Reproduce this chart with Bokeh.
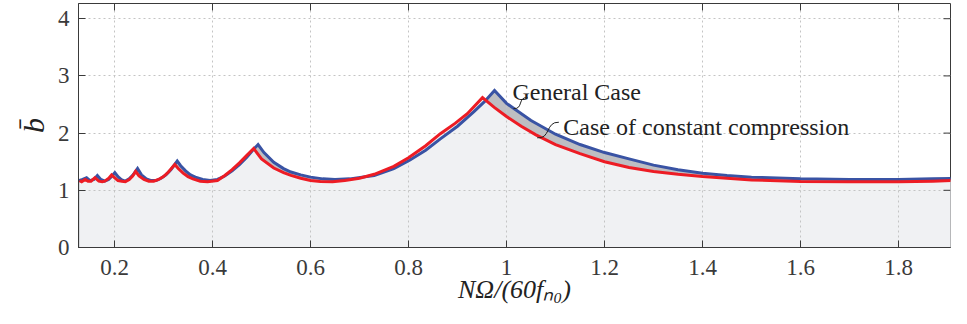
import numpy as np
from bokeh.plotting import figure
from bokeh.models import Range1d, Label, FixedTicker
from bokeh.embed import file_html
from bokeh.resources import INLINE

# ---------------- data ----------------
blue_x = [0.1265, 0.135, 0.143, 0.150, 0.158, 0.165, 0.172, 0.180, 0.188, 0.195, 0.2007, 0.207,
          0.215, 0.222, 0.230, 0.238, 0.247, 0.255, 0.265, 0.275, 0.285, 0.295, 0.305, 0.315,
          0.328, 0.335, 0.345, 0.355, 0.365, 0.380, 0.395, 0.410, 0.425, 0.440, 0.455, 0.470,
          0.482, 0.493, 0.505, 0.525, 0.545, 0.560, 0.580, 0.600, 0.625, 0.650, 0.680, 0.730,
          0.770, 0.803, 0.835, 0.865, 0.900, 0.933, 0.955, 0.9755, 1.0, 1.05, 1.10, 1.15,
          1.20, 1.25, 1.30, 1.35, 1.40, 1.45, 1.50, 1.60, 1.70, 1.80, 1.87, 1.94]
blue_y = [1.17, 1.19, 1.22, 1.17, 1.19, 1.26, 1.19, 1.16, 1.19, 1.25, 1.31, 1.24,
          1.18, 1.16, 1.20, 1.27, 1.38, 1.27, 1.20, 1.17, 1.17, 1.21, 1.27, 1.36,
          1.51, 1.43, 1.34, 1.27, 1.23, 1.19, 1.17, 1.19, 1.25, 1.34, 1.45, 1.58,
          1.70, 1.80, 1.66, 1.49, 1.38, 1.32, 1.27, 1.23, 1.20, 1.19, 1.20, 1.26,
          1.38, 1.53, 1.70, 1.90, 2.12, 2.37, 2.55, 2.745, 2.52, 2.22, 1.98, 1.80,
          1.66, 1.55, 1.44, 1.36, 1.30, 1.26, 1.23, 1.20, 1.19, 1.19, 1.20, 1.21]

red_x = [0.1285, 0.133, 0.140, 0.146, 0.152, 0.160, 0.168, 0.175, 0.180, 0.187, 0.194, 0.200,
         0.207, 0.215, 0.222, 0.230, 0.237, 0.243, 0.250, 0.260, 0.270, 0.280, 0.290, 0.300,
         0.310, 0.323, 0.330, 0.340, 0.350, 0.360, 0.375, 0.390, 0.410, 0.425, 0.440, 0.455,
         0.470, 0.484, 0.500, 0.525, 0.545, 0.560, 0.580, 0.600, 0.620, 0.645, 0.670, 0.700,
         0.730, 0.770, 0.800, 0.835, 0.865, 0.895, 0.920, 0.951, 0.975, 1.0, 1.03, 1.06,
         1.10, 1.15, 1.20, 1.25, 1.30, 1.35, 1.40, 1.50, 1.60, 1.70, 1.80, 1.87, 1.94]
red_y = [1.17, 1.15, 1.19, 1.16, 1.16, 1.22, 1.16, 1.15, 1.16, 1.20, 1.27, 1.22,
         1.17, 1.16, 1.15, 1.19, 1.25, 1.33, 1.25, 1.19, 1.16, 1.16, 1.19, 1.24,
         1.32, 1.45, 1.38, 1.30, 1.24, 1.20, 1.16, 1.15, 1.17, 1.26, 1.36, 1.48,
         1.61, 1.73, 1.55, 1.39, 1.31, 1.26, 1.21, 1.17, 1.155, 1.15, 1.17, 1.21,
         1.28, 1.42, 1.57, 1.78, 1.99, 2.17, 2.34, 2.62, 2.45, 2.29, 2.12, 1.97,
         1.80, 1.64, 1.50, 1.40, 1.33, 1.28, 1.24, 1.18, 1.155, 1.15, 1.15, 1.16, 1.18]

x_ticks = [0.2, 0.4, 0.6, 0.8, 1.0, 1.2, 1.4, 1.6, 1.8]
x_tick_labels = ["0.2", "0.4", "0.6", "0.8", "1", "1.2", "1.4", "1.6", "1.8"]
y_ticks = [0, 1, 2, 3, 4]
y_tick_labels = ["0", "1", "2", "3", "4"]

label_general = "General Case"
label_constant = "Case of constant compression"
x_title = "NΩ/(60fₙ₀)"
y_title = "b̄"

# ---------------- styles ----------------
BLUE = "#3953a4"
RED = "#ed1c24"
LIGHT = "#f0f1f3"
DARK = "#bdbec2"
AXIS = "#3a3a3a"
FONT = "Liberation Serif"

X0, X1 = 0.1265, 1.9061
Y0, Y1 = 0.0, 4.266

p = figure(width=951, height=308, output_backend="svg", toolbar_location=None,
           x_range=Range1d(X0, X1), y_range=Range1d(Y0, Y1),
           min_border_left=78, min_border_right=1, min_border_top=3, min_border_bottom=61)
p.outline_line_color = AXIS
p.outline_line_width = 1
p.background_fill_color = "white"
p.border_fill_color = "white"

# fills: dark under general case, light under constant compression
p.patch([blue_x[0]] + blue_x + [blue_x[-1]], [0] + blue_y + [0],
        fill_color=DARK, line_color=None, level="image")
p.patch([red_x[0]] + red_x + [red_x[-1]], [0] + red_y + [0],
        fill_color=LIGHT, line_color=None, level="image")

p.line(blue_x, blue_y, line_color=BLUE, line_width=3, line_join="miter")
p.line(red_x, red_y, line_color=RED, line_width=3, line_join="miter")

# grid
for g in (p.xgrid, p.ygrid):
    g.grid_line_color = "#c4c4c4"
    g.grid_line_dash = "2 3"
    g.grid_line_width = 1
p.xgrid.ticker = FixedTicker(ticks=x_ticks)
p.ygrid.ticker = FixedTicker(ticks=y_ticks)

def style_axis(ax, ticks, labels):
    ax.ticker = FixedTicker(ticks=ticks)
    ax.axis_line_color = AXIS
    ax.major_tick_line_color = AXIS
    ax.major_tick_in = 7
    ax.major_tick_out = 0
    ax.minor_tick_line_color = None
    ax.major_label_text_font = FONT
    ax.major_label_text_color = "#3a3a3a"
    ax.major_label_overrides = {t: l for t, l in zip(ticks, labels)}
    ax.major_label_text_font_size = "23px"
    ax.axis_label_text_font = FONT
    ax.axis_label_text_font_style = "italic"
    ax.axis_label_text_color = "#222222"

style_axis(p.xaxis[0], x_ticks, x_tick_labels)
style_axis(p.yaxis[0], y_ticks, y_tick_labels)
p.xaxis[0].major_label_standoff = 12
p.yaxis[0].major_label_standoff = 9
p.xaxis[0].axis_label = x_title
p.xaxis[0].axis_label_text_font_size = "26px"
p.xaxis[0].axis_label_standoff = -3
p.yaxis[0].axis_label = y_title
p.yaxis[0].axis_label_text_font_size = "30px"
p.yaxis[0].axis_label_standoff = 5

# mirrored inward ticks on top and right edges
tick_dy = 7 / 57.2
tick_dx = 7 / 490.0
p.segment(x0=x_ticks, y0=[Y1] * len(x_ticks), x1=x_ticks, y1=[Y1 - tick_dy] * len(x_ticks),
          line_color=AXIS, line_width=1)
p.segment(x0=[X1] * len(y_ticks), y0=y_ticks, x1=[X1 - tick_dx] * len(y_ticks), y1=y_ticks,
          line_color=AXIS, line_width=1)

# annotations
p.add_layout(Label(x=1.012, y=2.71, text=label_general, text_font=FONT,
                   text_font_size="24px", text_color="#222222", text_baseline="alphabetic"))
p.add_layout(Label(x=1.116, y=2.10, text=label_constant, text_font=FONT,
                   text_font_size="24px", text_color="#222222", text_baseline="alphabetic"))
# leader squiggles
p.bezier(x0=[1.0143, 1.0626], y0=[2.43, 1.918], x1=[1.0429, 1.1068], y1=[2.62, 2.19],
         cx0=[1.0347, 1.0898], cy0=[2.41, 1.888], cx1=[1.0224, 1.0796], cy1=[2.64, 2.203],
         line_color="#222222", line_width=1)

open("out.html", "w").write(file_html(p, INLINE))
